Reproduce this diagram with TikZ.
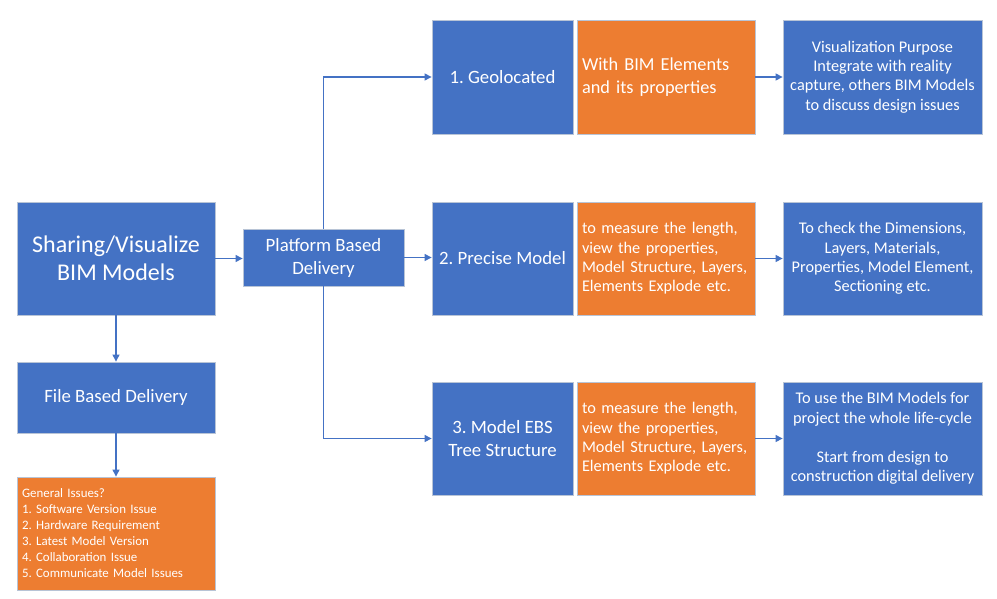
\documentclass[tikz,border=0pt]{standalone}
\usepackage{fontspec}
\setmainfont{Carlito}
\usetikzlibrary{arrows.meta}
\definecolor{bblue}{HTML}{4472C4}
\definecolor{borange}{HTML}{ED7D31}
\definecolor{bedge}{HTML}{B8C4D6}
\frenchspacing
\tikzset{
  box/.style={draw=bedge, line width=0.8pt, text=white, inner sep=0pt, align=center},
  bluebox/.style={box, fill=bblue},
  orangebox/.style={box, fill=borange},
  conn/.style={draw=bblue, line width=1.1pt, -{Triangle[length=7pt,width=7pt]}},
  fsmall/.style={font=\fontsize{16.3}{19.4}\selectfont},
  fmid/.style={font=\fontsize{18.8}{23}\selectfont},
}
\begin{document}
\begin{tikzpicture}[x=1pt,y=-1pt]
\useasboundingbox (0,0) rectangle (997,599);
% left column
\node[bluebox, minimum width=198pt, minimum height=113pt, font=\fontsize{24}{28.5}\selectfont] (share) at (116,258.5) {Sharing/Visualize\\BIM Models};
\node[bluebox, minimum width=161pt, minimum height=57pt, font=\fontsize{18.8}{23}\selectfont] (plat) at (323.5,257.5) {Platform Based\\Delivery};
\node[bluebox, minimum width=198pt, minimum height=71pt, font=\fontsize{18.8}{22}\selectfont] (file) at (116,397.5) {File Based Delivery};
\node[orangebox, minimum width=198pt, minimum height=113pt, text width=188pt, align=left, font=\fontsize{12.9}{16}\selectfont] (gen) at (116,533.5) {General Issues?\\1. Software Version Issue\\2. Hardware Requirement\\3. Latest Model Version\\4. Collaboration Issue\\5. Communicate Model Issues};
% row 1
\node[bluebox, minimum width=141pt, minimum height=114pt, fmid] (geo) at (502.5,77) {1. Geolocated};
\node[orangebox, minimum width=178pt, minimum height=114pt, text width=168pt, align=left, font=\fontsize{18.3}{23}\selectfont] (o1) at (666,77) {With BIM Elements\\and its properties};
\node[bluebox, minimum width=199pt, minimum height=114pt, fsmall] (v1) at (882.5,77) {Visualization Purpose\\Integrate with reality\\capture, others BIM Models\\to discuss design issues};
% row 2
\node[bluebox, minimum width=141pt, minimum height=113pt, fmid] (prec) at (502.5,258.5) {2. Precise Model};
\node[orangebox, minimum width=178pt, minimum height=113pt, text width=168pt, align=left, fsmall] (o2) at (666,258.5) {to measure the length,\\view the properties,\\Model Structure, Layers,\\Elements Explode etc.};
\node[bluebox, minimum width=199pt, minimum height=113pt, fsmall] (v2) at (882.5,258.5) {To check the Dimensions,\\Layers, Materials,\\Properties, Model Element,\\Sectioning etc.};
% row 3
\node[bluebox, minimum width=141pt, minimum height=113pt, fmid] (ebs) at (502.5,438.5) {3. Model EBS\\Tree Structure};
\node[orangebox, minimum width=178pt, minimum height=113pt, text width=168pt, align=left, fsmall] (o3) at (666,438.5) {to measure the length,\\view the properties,\\Model Structure, Layers,\\Elements Explode etc.};
\node[bluebox, minimum width=199pt, minimum height=113pt, fsmall] (v3) at (882.5,438.5) {To use the BIM Models for\\project the whole life-cycle\\[19.4pt]Start from design to\\construction digital delivery};
% connectors
\draw[conn] (share.east) -- (share.east -| plat.west);
\draw[conn] (share.south) -- (file.north);
\draw[conn] (file.south) -- (gen.north);
\draw[conn] (plat.north) |- (geo.west);
\draw[conn] (plat.east) -- (plat.east -| prec.west);
\draw[conn] (plat.south) |- (ebs.west);
\draw[conn] (o1.east) -- (v1.west);
\draw[conn] (o2.east) -- (v2.west);
\draw[conn] (o3.east) -- (v3.west);
\end{tikzpicture}
\end{document}
